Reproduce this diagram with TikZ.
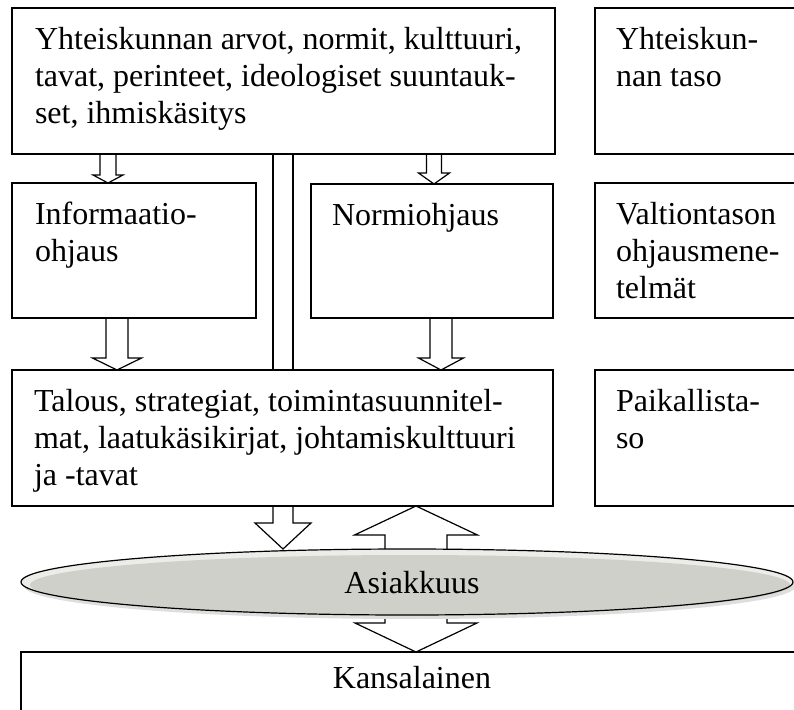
\documentclass[tikz,border=0pt]{standalone}
\usepackage{fontspec}
\setmainfont{Liberation Serif}
\usetikzlibrary{calc,shapes.geometric}
\definecolor{ellfill}{HTML}{D0D0CB}
\definecolor{ellrim}{HTML}{ECECE8}
\definecolor{ellshadow}{HTML}{DEDEDE}
\newcommand\blkarrow[6]{\draw[barrow] let \p1=(#1 |- #2), \p2=(#1 |- #3) in
  (\x1-#4,\y1) -- (\x1-#4,\y2+#6) -- (\x1-#5,\y2+#6) -- (\x1,\y2) -- (\x1+#5,\y2+#6) -- (\x1+#4,\y2+#6) -- (\x1+#4,\y1);}
\begin{document}
\begin{tikzpicture}[x=1pt,y=-1pt,
  box/.style={draw, line width=1.2pt, inner sep=0pt, outer sep=0pt, anchor=north west},
  txt/.style={anchor=north west, inner sep=0pt, outer sep=0pt, align=left, font=\fontsize{32}{36.8}\selectfont},
  lbl/.style={inner sep=0pt, outer sep=0pt, anchor=base, font=\fontsize{32}{36.8}\selectfont},
  barrow/.style={draw, line width=1.2pt, line join=miter},
  twin/.style={draw, line width=1.2pt}]
\useasboundingbox (0,0) rectangle (794,709);

% boxes
\node[box, minimum width=543pt, minimum height=146pt] (top) at (12,8) {};
\node[box, minimum width=230pt, minimum height=146pt] (r1) at (595,8) {};
\node[box, minimum width=244pt, minimum height=135pt] (info) at (12,183) {};
\node[box, minimum width=242pt, minimum height=134pt] (norm) at (311,184) {};
\node[box, minimum width=230pt, minimum height=135pt] (r2) at (595,183) {};
\node[box, minimum width=541pt, minimum height=136pt] (tal) at (12,370) {};
\node[box, minimum width=230pt, minimum height=136pt] (r3) at (595,370) {};
\node[box, minimum width=800pt, minimum height=80pt] (kan) at (21,652) {};

% ellipse placeholder
\node[ellipse, minimum width=772pt, minimum height=66pt, inner sep=0pt, outer sep=0pt] (asi) at (407,582) {};

% column coordinates
\coordinate (a1) at (108,0);
\coordinate (a2) at (434,0);
\coordinate (a3) at (117,0);
\coordinate (a4) at (441,0);
\coordinate (a5) at (283,0);
\coordinate (a6) at (416,0);
\coordinate (d1) at (273,0);
\coordinate (d2) at (293,0);

% arrows touching the ellipse (drawn before it)
\blkarrow{a5}{tal.south}{asi.north}{10pt}{28pt}{26pt}
\blkarrow{a6}{asi.center}{tal.south}{31pt}{61.5pt}{-29pt}
\blkarrow{a6}{asi.center}{kan.north}{31pt}{61pt}{29pt}

% ellipse
\fill[ellshadow] ($(asi.center)+(3,4)$) ellipse [x radius=386pt, y radius=33pt];
\fill[ellrim] (asi.center) ellipse [x radius=386pt, y radius=33pt];
\fill[ellfill] ($(asi.center)+(3,3)$) ellipse [x radius=380pt, y radius=30pt];
\draw[line width=1.2pt] (asi.center) ellipse [x radius=386pt, y radius=33pt];

% other arrows
\blkarrow{a1}{top.south}{info.north}{8pt}{15pt}{8pt}
\blkarrow{a2}{top.south}{norm.north}{7.5pt}{15.5pt}{11pt}
\blkarrow{a3}{info.south}{tal.north}{11pt}{24.5pt}{12pt}
\blkarrow{a4}{norm.south}{tal.north}{11pt}{22.5pt}{12pt}
\draw[twin] (d1 |- top.south) -- (d1 |- tal.north);
\draw[twin] (d2 |- top.south) -- (d2 |- tal.north);

% texts
\node[txt] (toptxt) at ($(top.north west)+(23,16)$) {\strut Yhteiskunnan arvot, normit, kulttuuri,\\tavat, perinteet, ideologiset suuntauk-\\set, ihmiskäsitys};
\node[txt] (r1txt) at ($(r1.north west)+(21,16)$) {\strut Yhteiskun-\\nan taso};
\node[txt] (infotxt) at ($(info.north west)+(23,16)$) {\strut Informaatio-\\ohjaus};
\node[txt] (normtxt) at ($(norm.north west)+(21,16)$) {\strut Normiohjaus};
\node[txt] (r2txt) at ($(r2.north west)+(21,16)$) {\strut Valtiontason\\ohjausmene-\\telmät};
\node[txt] (taltxt) at ($(tal.north west)+(22,16)$) {\strut Talous, strategiat, toimintasuunnitel-\\mat, laatukäsikirjat, johtamiskulttuuri\\ja -tavat};
\node[txt] (r3txt) at ($(r3.north west)+(21,16)$) {\strut Paikallista-\\so};
\node[lbl] (asitxt) at (412,593) {Asiakkuus};
\node[lbl] (kantxt) at (412,688) {Kansalainen};
\end{tikzpicture}
\end{document}
